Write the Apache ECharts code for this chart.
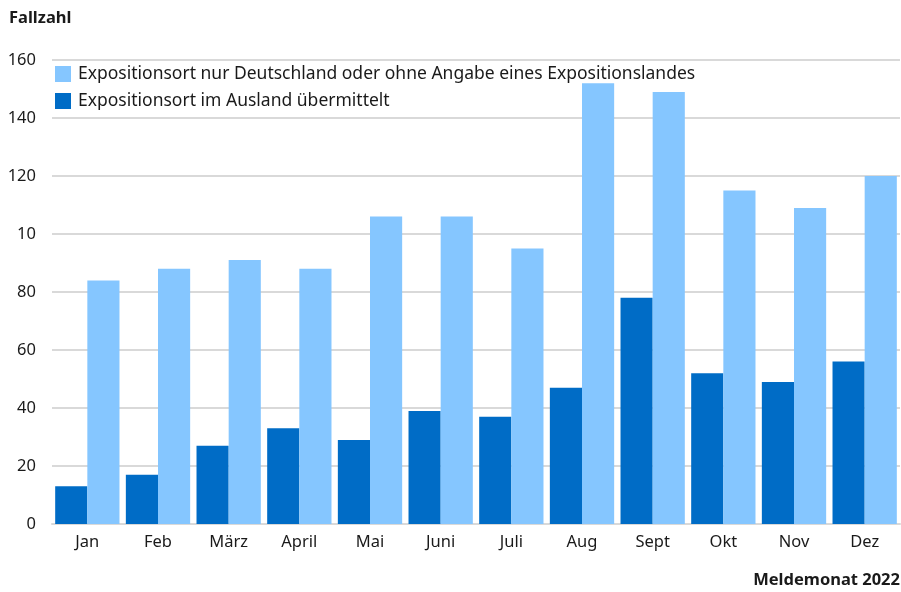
<!DOCTYPE html>
<html>
<head>
<meta charset="utf-8">
<script src="https://cdn.jsdelivr.net/npm/echarts@6/dist/echarts.min.js"></script>
<style>
  html, body { margin: 0; padding: 0; background: #fff; }
  #my_chart { width: 901px; height: 592px; }
</style>
</head>
<body>
<div id="my_chart"></div>
<script>
  var months = ['Jan', 'Feb', 'März', 'April', 'Mai', 'Juni', 'Juli', 'Aug', 'Sept', 'Okt', 'Nov', 'Dez'];
  var inland = [84, 88, 91, 88, 106, 106, 95, 152, 149, 115, 109, 120];
  var ausland = [13, 17, 27, 33, 29, 39, 37, 47, 78, 52, 49, 56];
  // tick labels as printed in the source (the 100 tick reads "10")
  var yTicks = ['0', '20', '40', '60', '80', '10', '120', '140', '160'];

  var nameInland = 'Expositionsort nur Deutschland oder ohne Angabe eines Expositionslandes';
  var nameAusland = 'Expositionsort im Ausland übermittelt';
  var font = 'Noto Sans';

  var my_chart = echarts.init(document.getElementById('my_chart'));
  my_chart.setOption({
    animation: false,
    textStyle: { fontFamily: font },
    title: [
      { text: 'Fallzahl', left: 9, top: 10, padding: 0,
        textStyle: { fontSize: 16.5, fontWeight: 'bold', color: '#1a1a1a', fontFamily: font } },
      { text: 'Meldemonat 2022', right: 1, top: 572, padding: 0,
        textStyle: { fontSize: 16.5, fontWeight: 'bold', color: '#1a1a1a', fontFamily: font } }
    ],
    legend: {
      data: [nameInland, nameAusland],
      orient: 'vertical',
      icon: 'rect',
      left: 50,
      top: 60,
      itemWidth: 16,
      itemHeight: 16,
      itemGap: 9,
      itemStyle: { borderWidth: 0 },
      textStyle: { fontSize: 17.5, color: '#1a1a1a', fontFamily: font, padding: [0, 0, 0, 2] }
    },
    grid: { left: 52, right: 1, top: 60, bottom: 68, containLabel: false },
    xAxis: {
      type: 'category',
      data: months,
      axisTick: { show: false },
      axisLine: { lineStyle: { color: '#d9d9d9', width: 2 } },
      axisLabel: { fontSize: 16.5, color: '#1a1a1a', margin: 10, fontFamily: font }
    },
    yAxis: {
      type: 'value',
      min: 0,
      max: 160,
      interval: 20,
      axisLine: { show: false },
      axisTick: { show: false },
      splitLine: { lineStyle: { color: '#d9d9d9', width: 2 } },
      axisLabel: {
        fontSize: 16.5, color: '#1a1a1a', margin: 16, fontFamily: font,
        formatter: function (v) { return yTicks[Math.round(v / 20)]; }
      }
    },
    series: [
      {
        name: nameAusland,
        type: 'bar',
        data: ausland,
        barGap: '0%',
        barCategoryGap: '9%',
        itemStyle: { color: '#006cc6' }
      },
      {
        name: nameInland,
        type: 'bar',
        data: inland,
        barGap: '0%',
        barCategoryGap: '9%',
        itemStyle: { color: '#85c6ff' }
      }
    ]
  });
</script>
</body>
</html>
